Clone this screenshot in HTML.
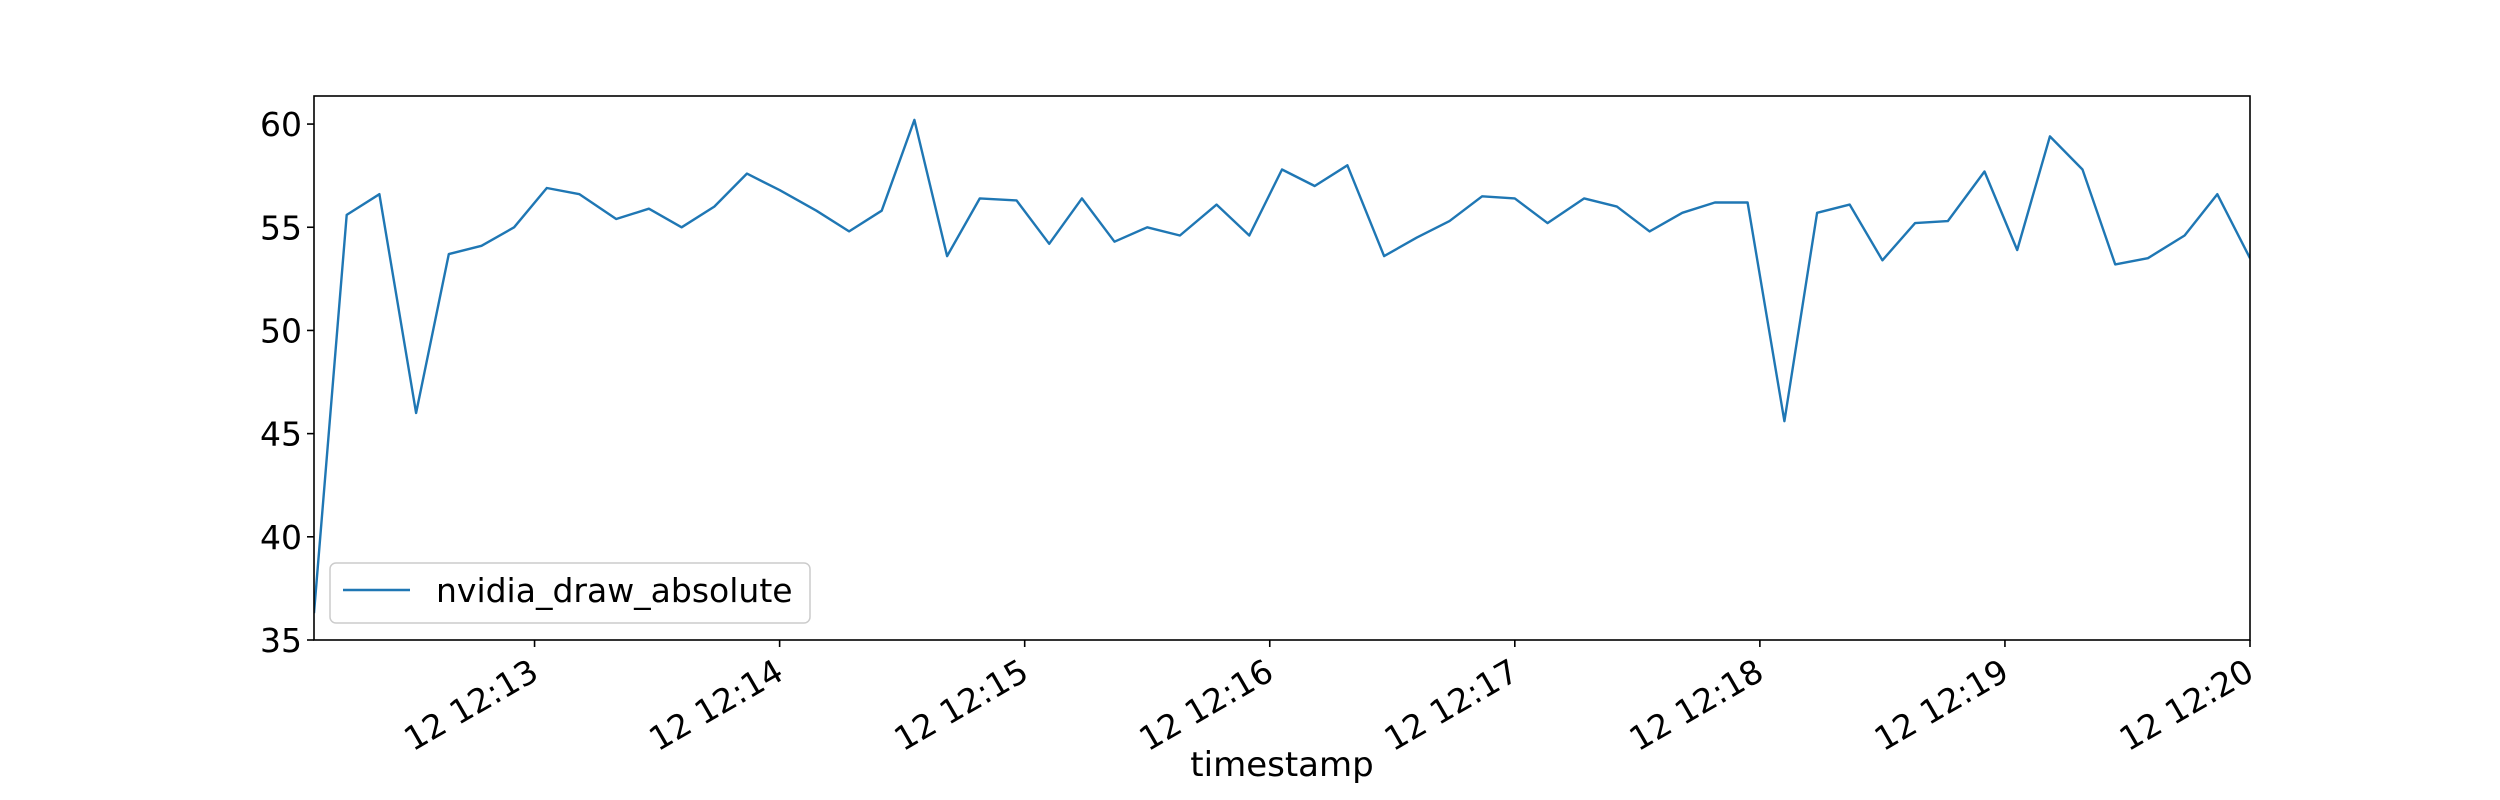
<!DOCTYPE html>
<html><head><meta charset="utf-8"><style>
html,body{margin:0;padding:0;background:#fff;}
svg{display:block;font-family:"DejaVu Sans","Liberation Sans",sans-serif;}
</style></head><body>
<svg id="chart" width="2500" height="800" viewBox="0 0 2500 800">
<rect x="0" y="0" width="2500" height="800" fill="#fff"/>
<g id="plot"></g>
</svg>
<script>
const seconds = [6,14,22,31,39,47,55,63,71,80,88,96,104,112,120,129,137,145,153,161,169,178,186,194,202,210,218,227,235,243,251,259,268,276,284,292,300,308,317,325,333,341,349,357,366,374,382,390,398,406,415,423,431,439,447,455,464,472,480];
const values = [36.3,55.6,56.6,46.0,53.7,54.1,55.0,56.9,56.6,55.4,55.9,55.0,56.0,57.6,56.8,55.8,54.8,55.8,60.2,53.6,56.4,56.3,54.2,56.4,54.3,55.0,54.6,56.1,54.6,57.8,57.0,58.0,53.6,54.5,55.3,56.5,56.4,55.2,56.4,56.0,54.8,55.7,56.2,56.2,45.6,55.7,56.1,53.4,55.2,55.3,57.7,53.9,59.4,57.8,53.2,53.5,54.6,56.6,53.5];
const yTicks = [35,40,45,50,55,60];
const xTickSeconds = [60,120,180,240,300,360,420,480];
const xTickLabels = ["12 12:13","12 12:14","12 12:15","12 12:16","12 12:17","12 12:18","12 12:19","12 12:20"];

const L=314,R=2250,T=96,B=640;
const xMin=6,xMax=480,yMin=35,yMax=61.36;
function sx(s){return L+(s-xMin)/(xMax-xMin)*(R-L);}
function sy(v){return B-(v-yMin)/(yMax-yMin)*(B-T);}
const NS="http://www.w3.org/2000/svg";
const g=document.getElementById('plot');
function mk(tag,attrs){const e=document.createElementNS(NS,tag);for(const k in attrs)e.setAttribute(k,attrs[k]);g.appendChild(e);return e;}

let d=seconds.map((s,i)=>(i?'L':'M')+sx(s).toFixed(1)+','+sy(values[i]).toFixed(1)).join(' ');
const clip=mk('clipPath',{id:'cp'});
const cr=document.createElementNS(NS,'rect');cr.setAttribute('x',L);cr.setAttribute('y',T);cr.setAttribute('width',R-L);cr.setAttribute('height',B-T);clip.appendChild(cr);
const line=mk('path',{d:d,fill:'none',stroke:'#1f77b4','stroke-width':2.4,'stroke-linejoin':'round','clip-path':'url(#cp)'});



const fr=mk('rect',{x:L,y:T,width:R-L,height:B-T,fill:'none',stroke:'#000','stroke-width':1.6});



yTicks.forEach(v=>{
  const y=sy(v);
  const t=mk('line',{x1:L-7,x2:L,y1:y,y2:y,stroke:'#000','stroke-width':1.6});
  
  
  const tx=mk('text',{x:L-12,y:y+12,'text-anchor':'end','font-size':33,fill:'#000'});
  tx.textContent=v;
  
  
});
xTickSeconds.forEach((s,i)=>{
  const x=sx(s);
  const t=mk('line',{x1:x,x2:x,y1:B,y2:B+7,stroke:'#000','stroke-width':1.6});
  
  
  const ax=x+6,ay=B+38;
  const tx=mk('text',{x:ax,y:ay,'text-anchor':'end','font-size':33,fill:'#000',transform:'rotate(-30 '+ax+' '+ay+')'});
  tx.textContent=xTickLabels[i];
  
  
});
const xt=mk('text',{x:1282,y:776,'text-anchor':'middle','font-size':34,fill:'#000'});
xt.textContent='timestamp';



const lg=mk('rect',{x:330,y:563,width:480,height:60,rx:6,fill:'#fff','fill-opacity':0.8,stroke:'#ccc','stroke-width':1.5});


const ll=mk('line',{x1:343,x2:410,y1:590,y2:590,stroke:'#1f77b4','stroke-width':2.4});


const lt=mk('text',{x:436,y:602,'font-size':33,fill:'#000'});
lt.textContent='nvidia_draw_absolute';


</script>
</body></html>
